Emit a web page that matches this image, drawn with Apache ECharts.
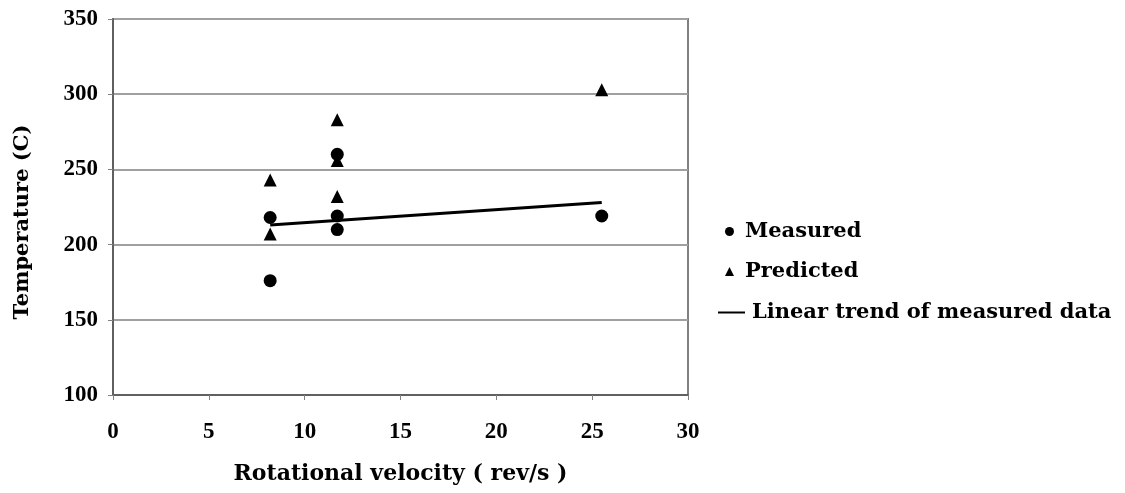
<!DOCTYPE html>
<html>
<head>
<meta charset="utf-8">
<script src="https://cdn.jsdelivr.net/npm/echarts@6/dist/echarts.min.js"></script>
<style>
  html, body { margin: 0; padding: 0; background: #fff; }
  #chart { width: 1125px; height: 493px; }
</style>
</head>
<body>
<div id="chart"></div>
<script>
// measured temperatures
const measuredX = [8.2, 8.2, 11.7, 11.7, 11.7, 25.5];
const measuredY = [218, 176, 260, 219, 210, 219];
// predicted temperatures
const predictedX = [8.2, 8.2, 11.7, 11.7, 11.7, 25.5];
const predictedY = [243, 207, 283, 256, 232, 303];
// linear trend of measured data (end points)
const trendX = [8.2, 25.5];
const trendY = [213, 228];

const tickFont = "Liberation Serif";
const textFont = "DejaVu Serif";

function pairs(xs, ys) {
  return xs.map((x, i) => [x, ys[i]]);
}

const chart = echarts.init(document.getElementById("chart"));

const textStyle = { fontFamily: textFont, fontSize: 21, fontWeight: "bold", color: "#000" };
const nameStyle = { fontFamily: textFont, fontSize: 22, fontWeight: "bold", color: "#000" };
const tickStyle = { fontFamily: tickFont, fontSize: 23, fontWeight: "bold", color: "#000" };

const legendBase = { orient: "vertical", selectedMode: false };

chart.setOption({
  animation: false,
  backgroundColor: "#fff",
  grid: { left: 113, right: 437, top: 19, bottom: 98, show: true, borderColor: "#808080", borderWidth: 2 },
  xAxis: {
    type: "value",
    min: 0,
    max: 30,
    interval: 5,
    name: "Rotational velocity ( rev/s )",
    nameLocation: "middle",
    nameGap: 68,
    nameTextStyle: nameStyle,
    axisLine: { lineStyle: { color: "#606060", width: 2 } },
    axisTick: { show: true, length: 5, lineStyle: { color: "#808080" } },
    axisLabel: Object.assign({ margin: 26 }, tickStyle),
    splitLine: { show: false }
  },
  yAxis: {
    type: "value",
    min: 100,
    max: 350,
    interval: 50,
    name: "Temperature (C)",
    nameLocation: "middle",
    nameGap: 80,
    nameTextStyle: Object.assign({ padding: [0, 30, 0, 0] }, textStyle),
    axisLine: { show: true, lineStyle: { color: "#606060", width: 2 } },
    axisTick: { show: true, length: 5, lineStyle: { color: "#808080" } },
    axisLabel: Object.assign({ margin: 15 }, tickStyle),
    splitLine: { show: true, lineStyle: { color: "#a0a0a0", width: 2 } }
  },
  legend: [
    Object.assign({}, legendBase, {
      left: 720, top: 216, icon: "circle", itemWidth: 9, itemHeight: 9,
      data: ["Measured"],
      textStyle: Object.assign({ padding: [0, 0, 0, 6] }, textStyle)
    }),
    Object.assign({}, legendBase, {
      left: 720, top: 256, icon: "triangle", itemWidth: 9, itemHeight: 9,
      data: ["Predicted"],
      textStyle: Object.assign({ padding: [0, 0, 0, 6] }, textStyle)
    }),
    Object.assign({}, legendBase, {
      left: 713, top: 297, icon: "rect", itemWidth: 27, itemHeight: 2,
      data: ["Linear trend of measured data"],
      textStyle: Object.assign({ padding: [0, 0, 0, 2] }, textStyle)
    })
  ],
  series: [
    {
      name: "Measured",
      type: "scatter",
      symbol: "circle",
      symbolSize: 13,
      itemStyle: { color: "#000", opacity: 1 },
      data: pairs(measuredX, measuredY),
      z: 3
    },
    {
      name: "Predicted",
      type: "scatter",
      symbol: "triangle",
      symbolSize: 13,
      itemStyle: { color: "#000", opacity: 1 },
      data: pairs(predictedX, predictedY),
      z: 3
    },
    {
      name: "Linear trend of measured data",
      type: "line",
      showSymbol: false,
      symbol: "none",
      itemStyle: { color: "#000" },
      lineStyle: { color: "#000", width: 3 },
      data: pairs(trendX, trendY),
      z: 4
    }
  ]
});
</script>
</body>
</html>
